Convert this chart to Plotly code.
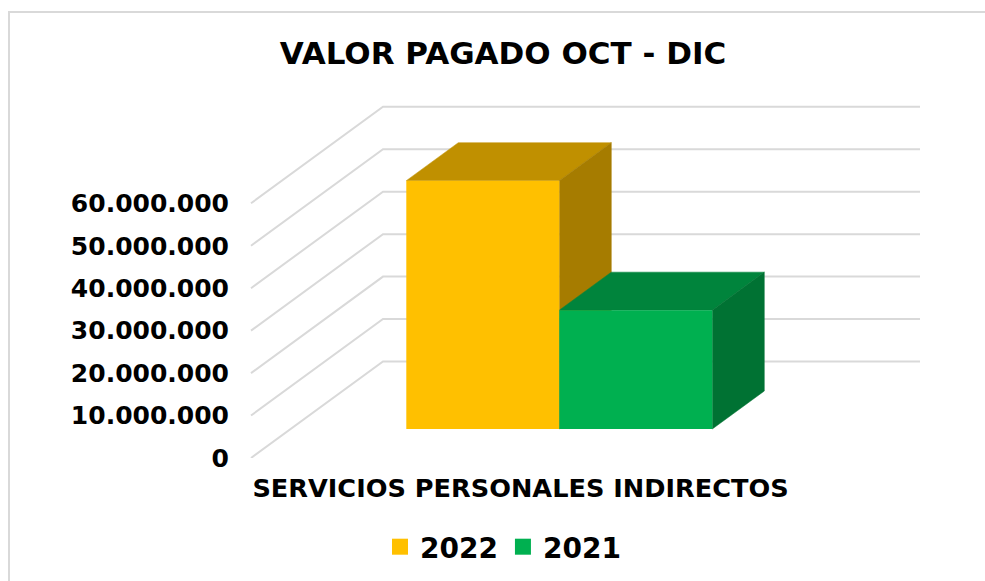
import plotly.graph_objects as go

# --- data ---
categoria = "SERVICIOS PERSONALES INDIRECTOS"
titulo = "VALOR PAGADO OCT - DIC"
anios = ["2022", "2021"]
valores = [58500000, 28000000]
tick_vals = [0, 10000000, 20000000, 30000000, 40000000, 50000000, 60000000]
tick_text = ["0", "10.000.000", "20.000.000", "30.000.000", "40.000.000", "50.000.000", "60.000.000"]

# --- styling / projection ---
FONT = "DejaVu Sans"
front = ["#FFC000", "#00B050"]
top = ["#C09000", "#00843C"]
side = ["#A67C00", "#007233"]
GRID = "#D9D9D9"

W, H = 985, 581
L, T, B = 230, 60, 123          # plot-area margins in px
PX_X = 153.0                    # px per bar width
PX_Y = 42.45 / 10000000         # px per value unit
X0_PX = 406.3                   # page x of x=0
Y0_PX = H - B                   # page y of value 0

def y_units(px):
    return px / PX_Y

xr = [(L - X0_PX) / PX_X, (W - X0_PX) / PX_X]
yr = [0, y_units(Y0_PX - T)]

wall_x0 = (251 - X0_PX) / PX_X
wall_dx = 132 / PX_X
wall_dy = y_units(96.5)
wall_x1 = (920 - X0_PX) / PX_X
bar_base = y_units(29)
bar_dx = 52 / PX_X
bar_dy = y_units(38)

fig = go.Figure()

# walls' gridlines
gx, gy = [], []
for v in tick_vals:
    gx += [wall_x0, wall_x0 + wall_dx, wall_x1, None]
    gy += [v, v + wall_dy, v + wall_dy, None]
fig.add_trace(go.Scatter(x=gx, y=gy, mode="lines", line=dict(color=GRID, width=2),
                         showlegend=False, hoverinfo="skip"))

# depth faces
for i, (name, v) in enumerate(zip(anios, valores)):
    x0, x1 = i, i + 1
    b, t = bar_base, bar_base + v
    fig.add_trace(go.Scatter(
        x=[x0, x1, x1 + bar_dx, x0 + bar_dx, x0],
        y=[t, t, t + bar_dy, t + bar_dy, t],
        fill="toself", fillcolor=top[i], mode="lines", line=dict(color=top[i], width=0.5),
        showlegend=False, hoverinfo="skip"))
    fig.add_trace(go.Scatter(
        x=[x1, x1 + bar_dx, x1 + bar_dx, x1, x1],
        y=[t, t + bar_dy, b + bar_dy, b, t],
        fill="toself", fillcolor=side[i], mode="lines", line=dict(color=side[i], width=0.5),
        showlegend=False, hoverinfo="skip"))

# front faces, on an overlaying pair of axes so they paint above the depth faces
for i, (name, v) in enumerate(zip(anios, valores)):
    fig.add_trace(go.Bar(x=[i + 0.5], y=[v], base=[bar_base], width=[1],
                         marker=dict(color=front[i], line=dict(width=0)),
                         xaxis="x2", yaxis="y2", showlegend=False, name=name))

# legend keys
for i, name in enumerate(anios):
    fig.add_trace(go.Scatter(x=[None], y=[None], mode="markers", name=name,
                             marker=dict(symbol="square", size=16, color=front[i])))

px = lambda x: (x - L) / (W - L)
py = lambda y: (H - B - y) / (H - B - T)

fig.update_layout(
    width=W, height=H,
    margin=dict(l=L, r=0, t=T, b=B, autoexpand=False),
    paper_bgcolor="white", plot_bgcolor="rgba(0,0,0,0)",
    barmode="overlay",
    title=dict(text=titulo, x=503 / W, xanchor="center", y=1 - 53 / H, yanchor="middle",
               font=dict(family=FONT, size=31, color="black", weight="bold")),
    xaxis=dict(range=xr, showgrid=False, zeroline=False, showline=False, ticks="",
               tickvals=[(520.5 - X0_PX) / PX_X], ticktext=[categoria], ticklabelstandoff=12,
               tickfont=dict(family=FONT, size=25.6, color="black", weight="bold")),
    yaxis=dict(range=yr, showgrid=False, zeroline=False, showline=False, ticks="",
               tickvals=tick_vals, ticktext=tick_text,
               tickfont=dict(family=FONT, size=25, color="black", weight="bold")),
    xaxis2=dict(range=xr, overlaying="x", visible=False),
    yaxis2=dict(range=yr, overlaying="y", visible=False),
    legend=dict(orientation="h", x=px(380), xanchor="left", y=py(547), yanchor="middle",
                font=dict(family=FONT, size=28, color="black", weight="bold"),
                bgcolor="rgba(0,0,0,0)", itemclick=False, itemdoubleclick=False),
    shapes=[dict(type="path", xref="paper", yref="paper", layer="below",
                 path=f"M {px(9)} {py(H + 5)} L {px(9)} {py(12)} L {px(W + 5)} {py(12)}",
                 line=dict(color=GRID, width=2))],
)
fig.write_html("out.html", config=dict(displayModeBar=False),
               post_script="document.body.style.margin='0';document.body.style.overflow='hidden';")
